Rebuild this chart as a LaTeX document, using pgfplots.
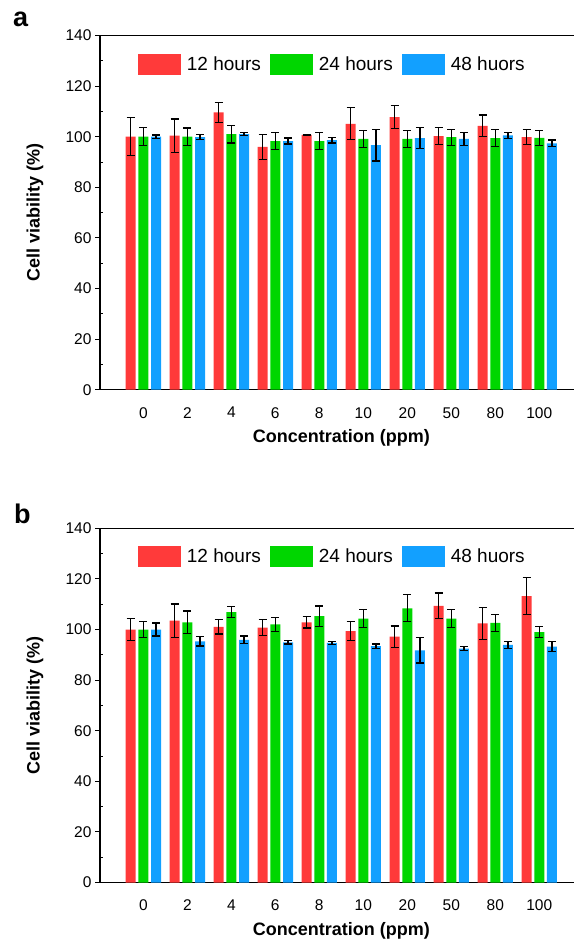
\documentclass[border=0pt]{standalone}
\usepackage{fontspec}
\setmainfont{Liberation Sans}
\usepackage{pgfplots}
\usepackage{pgfplotstable}
\pgfplotsset{compat=1.18}

\definecolor{barred}{RGB}{255,58,58}
\definecolor{bargreen}{RGB}{0,214,0}
\definecolor{barblue}{RGB}{18,160,255}

% Panel a: concentration index, mean viability, standard deviation
\pgfplotstableread{
x y e
0 100 7.5
1 100.4 6.6
2 109.6 4.0
3 96.0 4.9
4 100.7 0.3
5 105.1 6.3
6 107.7 4.5
7 100.2 3.4
8 104.3 4.3
9 99.8 3.0
}\aTwelve
\pgfplotstableread{
x y e
0 100 3.5
1 100 3.4
2 101 3.5
3 98.3 3.3
4 98.3 3.3
5 99.1 3.4
6 99.1 3.4
7 99.8 3.2
8 99.4 3.4
9 99.5 2.9
}\aTwentyFour
\pgfplotstableread{
x y e
0 100 0.7
1 99.8 1.0
2 101 0.6
3 98.3 1.2
4 98.6 1.1
5 96.7 6.3
6 99.4 4.2
7 99.1 2.6
8 100.5 1.3
9 97.4 1.3
}\aFortyEight

% Panel b
\pgfplotstableread{
x y e
0 100 4.5
1 103.5 6.6
2 101 2.8
3 100.7 3.2
4 102.8 2.2
5 99.4 3.9
6 97.2 4.2
7 109.3 5.1
8 102.4 6.2
9 113.2 7.4
}\bTwelve
\pgfplotstableread{
x y e
0 100 3.3
1 102.8 4.5
2 106.9 2.2
3 102 2.9
4 105.3 4.0
5 104.3 3.5
6 108.4 5.3
7 104.3 3.6
8 102.6 3.4
9 99 2.1
}\bTwentyFour
\pgfplotstableread{
x y e
0 100 2.6
1 95.3 1.8
2 95.9 1.5
3 94.9 0.6
4 94.7 0.7
5 93.4 0.9
6 91.8 5.0
7 92.4 0.8
8 93.9 1.4
9 93.2 2.0
}\bFortyEight

\pgfplotsset{
  viab/.style={
    ybar=2.7pt, bar width=10pt,
    scale only axis, width=474pt, height=354.2pt,
    xmin=-0.985, xmax=9.79, ymin=0, ymax=140,
    axis x line*=box, axis y line*=left,
    axis line style={line width=1.3pt, black},
    xtick={0,...,9}, xticklabels={0,2,4,6,8,10,20,50,80,100},
    x tick style={draw=none},
    ytick={0,20,...,140}, minor y tick num=1,
    tick align=outside,
    major tick length=5pt, minor tick length=2.5pt,
    y tick style={line width=1pt, black},
    minor y tick style={xshift=2.5pt},
    tick label style={font=\fontsize{15.5}{18}\selectfont},
    xticklabel style={yshift=-9pt},
    /pgf/number format/assume math mode=true,
    xlabel={Concentration (ppm)}, ylabel={Cell viability (\%)},
    every axis x label/.style={at={(axis description cs:0.509,0)}, anchor=center,
      yshift=-48pt, font=\bfseries\fontsize{18}{21}\selectfont},
    every axis y label/.style={at={(axis description cs:-0.137,0.5)}, anchor=center,
      rotate=90, font=\bfseries\fontsize{18}{21}\selectfont},
    legend columns=3,
    legend style={at={(axis description cs:0.080,0.9195)}, anchor=west,
      draw=none, fill=none, inner sep=0pt, outer sep=0pt,
      font=\fontsize{19}{22}\selectfont,
      /tikz/every even column/.append style={column sep=7pt}},
  },
  swatch/.style={legend image code/.code={%
    \fill[##1] (0pt,-10.5pt) rectangle (43pt,10.5pt);
    \path (47pt,0pt);}},
  sd/.style={error bars/.cd, y dir=both, y explicit,
    error bar style={draw=black, line width=1.2pt},
    error mark options={rotate=90, mark size=4pt, draw=black, line width=1.2pt, solid}},
}

\begin{document}
\begin{tikzpicture}
\path[use as bounding box] (0,0) rectangle (574pt,-942pt);

\begin{axis}[viab, at={(100pt,-35.5pt)}, anchor=north west]
\addplot[fill=barred, draw=none, swatch, sd] table[x=x, y=y, y error=e] {\aTwelve};
\addplot[fill=bargreen, draw=none, swatch, sd] table[x=x, y=y, y error=e] {\aTwentyFour};
\addplot[fill=barblue, draw=none, swatch, sd] table[x=x, y=y, y error=e] {\aFortyEight};
\legend{12 hours, 24 hours, 48 huors}
\end{axis}

\begin{axis}[viab, at={(100pt,-528.3pt)}, anchor=north west]
\addplot[fill=barred, draw=none, swatch, sd] table[x=x, y=y, y error=e] {\bTwelve};
\addplot[fill=bargreen, draw=none, swatch, sd] table[x=x, y=y, y error=e] {\bTwentyFour};
\addplot[fill=barblue, draw=none, swatch, sd] table[x=x, y=y, y error=e] {\bFortyEight};
\legend{12 hours, 24 hours, 48 huors}
\end{axis}

\node[anchor=base west, inner sep=0pt, font=\bfseries\fontsize{27}{30}\selectfont] at (13pt,-27pt) {a};
\node[anchor=base west, inner sep=0pt, font=\bfseries\fontsize{27}{30}\selectfont] at (14pt,-523pt) {b};
\end{tikzpicture}
\end{document}
